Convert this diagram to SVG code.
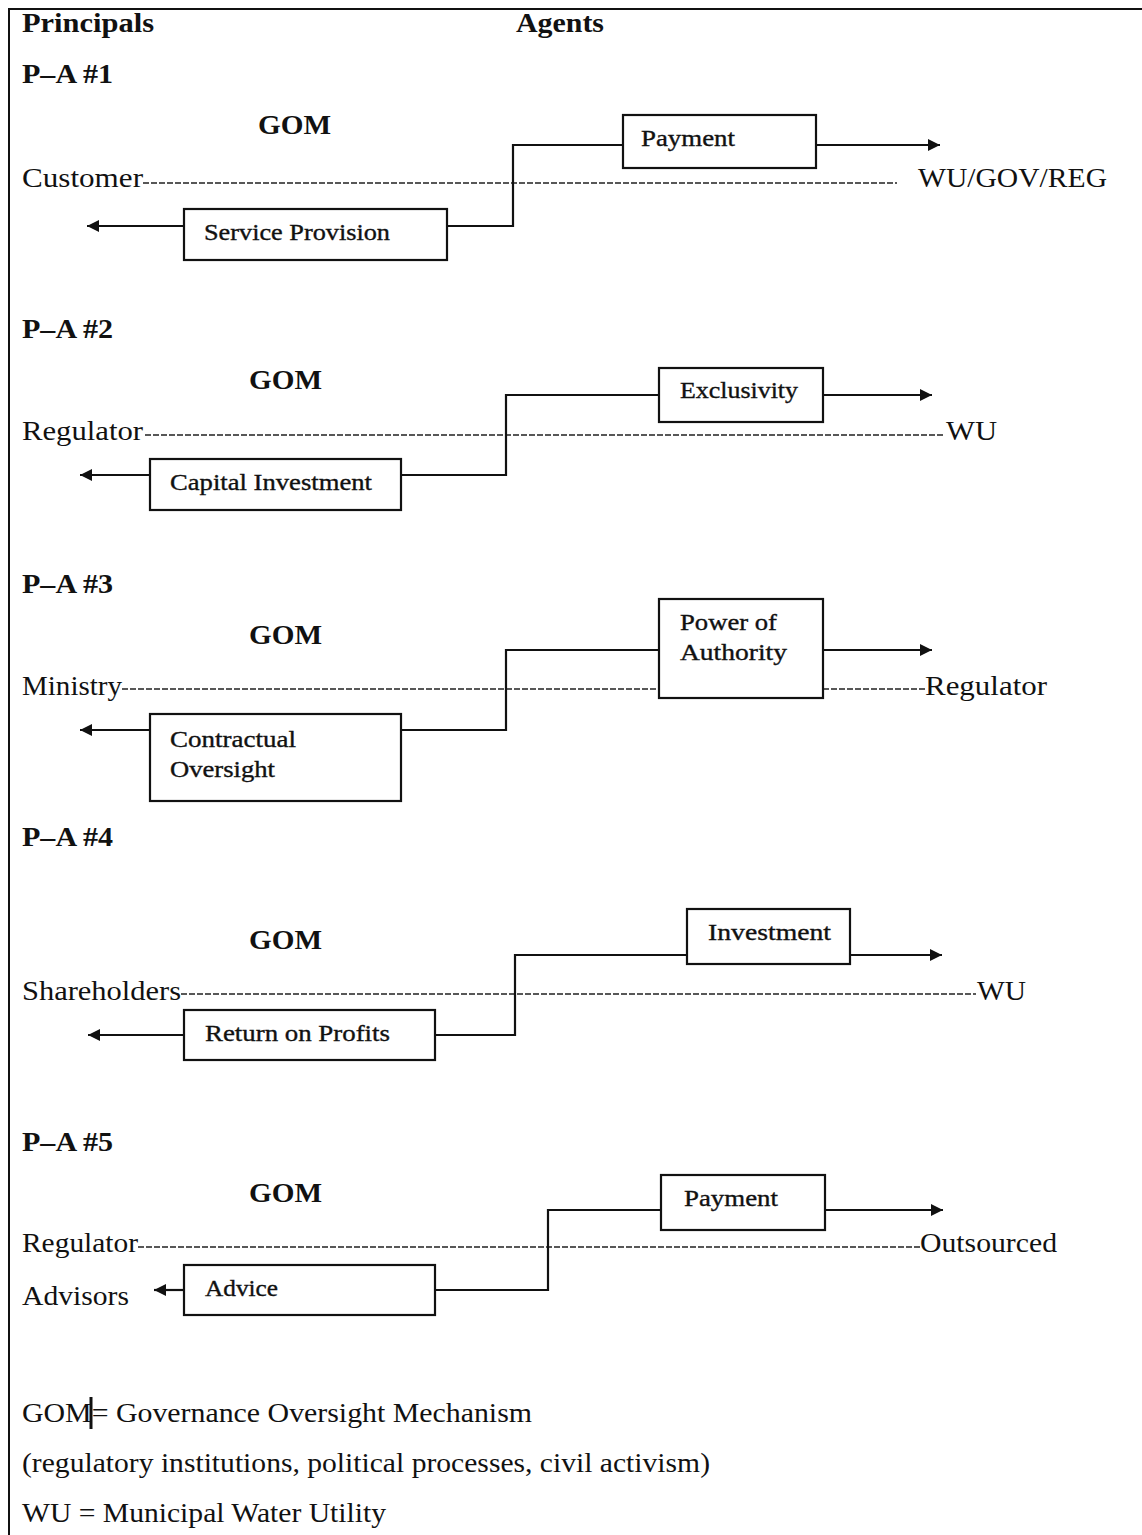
<svg xmlns="http://www.w3.org/2000/svg" width="1142" height="1535" viewBox="0 0 1142 1535">
<defs>
<style>
.t{font-family:"Liberation Serif","Times New Roman",serif;font-size:28px;fill:#111;}
.b{font-weight:bold;}
.bx{font-family:"Liberation Serif","Times New Roman",serif;font-size:23px;fill:#111;stroke:#111;stroke-width:0.35;}
.lg{font-family:"Liberation Serif","Times New Roman",serif;font-size:28px;fill:#111;}
.box{fill:#fff;stroke:#111;stroke-width:2.2;}
.ln{fill:none;stroke:#111;stroke-width:2.2;}
.dash{fill:none;stroke:#222;stroke-width:1.6;stroke-dasharray:6 2;}
</style>
<marker id="ah" viewBox="0 0 12 12" refX="12" refY="6" markerWidth="12" markerHeight="12" markerUnits="userSpaceOnUse" orient="auto">
<path d="M0,0 L12,6 L0,12 z" fill="#111"/>
</marker>
</defs>
<rect width="1142" height="1535" fill="#fff"/>
<path d="M1142,9 H9 V1535" fill="none" stroke="#111" stroke-width="2"/>

<g id="headers">
<text class="t b" x="22" y="32" textLength="132" lengthAdjust="spacingAndGlyphs">Principals</text>
<text class="t b" x="516" y="32" textLength="88" lengthAdjust="spacingAndGlyphs">Agents</text>
</g>

<g id="connectors">
<line class="dash" x1="143" y1="183" x2="897" y2="183"/>
<line class="dash" x1="145" y1="435" x2="945" y2="435"/>
<line class="dash" x1="122" y1="689" x2="659" y2="689"/>
<line class="dash" x1="823" y1="689" x2="925" y2="689"/>
<line class="dash" x1="181" y1="994" x2="976" y2="994"/>
<line class="dash" x1="138" y1="1247" x2="920" y2="1247"/>

<polyline class="ln" points="447,226 513,226 513,145 623,145"/>
<line class="ln" x1="816" y1="145" x2="940" y2="145" marker-end="url(#ah)"/>
<line class="ln" x1="184" y1="226" x2="87" y2="226" marker-end="url(#ah)"/>

<polyline class="ln" points="401,475 506,475 506,395 659,395"/>
<line class="ln" x1="823" y1="395" x2="932" y2="395" marker-end="url(#ah)"/>
<line class="ln" x1="150" y1="475" x2="80" y2="475" marker-end="url(#ah)"/>

<polyline class="ln" points="401,730 506,730 506,650 659,650"/>
<line class="ln" x1="823" y1="650" x2="932" y2="650" marker-end="url(#ah)"/>
<line class="ln" x1="150" y1="730" x2="80" y2="730" marker-end="url(#ah)"/>

<polyline class="ln" points="435,1035 515,1035 515,955 687,955"/>
<line class="ln" x1="850" y1="955" x2="942" y2="955" marker-end="url(#ah)"/>
<line class="ln" x1="184" y1="1035" x2="88" y2="1035" marker-end="url(#ah)"/>

<polyline class="ln" points="435,1290 548,1290 548,1210 661,1210"/>
<line class="ln" x1="825" y1="1210" x2="943" y2="1210" marker-end="url(#ah)"/>
<line class="ln" x1="184" y1="1290" x2="154" y2="1290" marker-end="url(#ah)"/>
</g>

<g id="pa1">
<text class="t b" x="22" y="83" textLength="91" lengthAdjust="spacingAndGlyphs">P–A #1</text>
<text class="t b" x="258" y="134" textLength="73" lengthAdjust="spacingAndGlyphs">GOM</text>
<text class="t" x="22" y="187" textLength="121" lengthAdjust="spacingAndGlyphs">Customer</text>
<text class="t" x="918" y="187" textLength="189" lengthAdjust="spacingAndGlyphs">WU/GOV/REG</text>
</g>
<g id="box-payment1">
<rect class="box" x="623" y="115" width="193" height="53"/>
<text class="bx" x="641" y="146" textLength="94" lengthAdjust="spacingAndGlyphs">Payment</text>
</g>
<g id="box-service">
<rect class="box" x="184" y="209" width="263" height="51"/>
<text class="bx" x="204" y="240" textLength="186" lengthAdjust="spacingAndGlyphs">Service Provision</text>
</g>

<g id="pa2">
<text class="t b" x="22" y="338" textLength="91" lengthAdjust="spacingAndGlyphs">P–A #2</text>
<text class="t b" x="249" y="389" textLength="73" lengthAdjust="spacingAndGlyphs">GOM</text>
<text class="t" x="22" y="440" textLength="121" lengthAdjust="spacingAndGlyphs">Regulator</text>
<text class="t" x="946" y="440" textLength="51" lengthAdjust="spacingAndGlyphs">WU</text>
</g>
<g id="box-exclusivity">
<rect class="box" x="659" y="368" width="164" height="54"/>
<text class="bx" x="680" y="398" textLength="118" lengthAdjust="spacingAndGlyphs">Exclusivity</text>
</g>
<g id="box-capital">
<rect class="box" x="150" y="459" width="251" height="51"/>
<text class="bx" x="170" y="490" textLength="202" lengthAdjust="spacingAndGlyphs">Capital Investment</text>
</g>

<g id="pa3">
<text class="t b" x="22" y="593" textLength="91" lengthAdjust="spacingAndGlyphs">P–A #3</text>
<text class="t b" x="249" y="644" textLength="73" lengthAdjust="spacingAndGlyphs">GOM</text>
<text class="t" x="22" y="695" textLength="100" lengthAdjust="spacingAndGlyphs">Ministry</text>
<text class="t" x="925" y="695" textLength="122" lengthAdjust="spacingAndGlyphs">Regulator</text>
</g>
<g id="box-power">
<rect class="box" x="659" y="599" width="164" height="99"/>
<text class="bx" x="680" y="630" textLength="97" lengthAdjust="spacingAndGlyphs">Power of</text>
<text class="bx" x="680" y="660" textLength="107" lengthAdjust="spacingAndGlyphs">Authority</text>
</g>
<g id="box-contractual">
<rect class="box" x="150" y="714" width="251" height="87"/>
<text class="bx" x="170" y="747" textLength="126" lengthAdjust="spacingAndGlyphs">Contractual</text>
<text class="bx" x="170" y="777" textLength="105" lengthAdjust="spacingAndGlyphs">Oversight</text>
</g>

<g id="pa4">
<text class="t b" x="22" y="846" textLength="91" lengthAdjust="spacingAndGlyphs">P–A #4</text>
<text class="t b" x="249" y="949" textLength="73" lengthAdjust="spacingAndGlyphs">GOM</text>
<text class="t" x="22" y="1000" textLength="159" lengthAdjust="spacingAndGlyphs">Shareholders</text>
<text class="t" x="977" y="1000" textLength="49" lengthAdjust="spacingAndGlyphs">WU</text>
</g>
<g id="box-investment">
<rect class="box" x="687" y="909" width="163" height="55"/>
<text class="bx" x="708" y="940" textLength="123" lengthAdjust="spacingAndGlyphs">Investment</text>
</g>
<g id="box-return">
<rect class="box" x="184" y="1010" width="251" height="50"/>
<text class="bx" x="205" y="1041" textLength="185" lengthAdjust="spacingAndGlyphs">Return on Profits</text>
</g>

<g id="pa5">
<text class="t b" x="22" y="1151" textLength="91" lengthAdjust="spacingAndGlyphs">P–A #5</text>
<text class="t b" x="249" y="1202" textLength="73" lengthAdjust="spacingAndGlyphs">GOM</text>
<text class="t" x="22" y="1252" textLength="116" lengthAdjust="spacingAndGlyphs">Regulator</text>
<text class="t" x="920" y="1252" textLength="137" lengthAdjust="spacingAndGlyphs">Outsourced</text>
<text class="t" x="22" y="1305" textLength="107" lengthAdjust="spacingAndGlyphs">Advisors</text>
</g>
<g id="box-payment5">
<rect class="box" x="661" y="1175" width="164" height="55"/>
<text class="bx" x="684" y="1206" textLength="94" lengthAdjust="spacingAndGlyphs">Payment</text>
</g>
<g id="box-advice">
<rect class="box" x="184" y="1265" width="251" height="50"/>
<text class="bx" x="205" y="1296" textLength="73" lengthAdjust="spacingAndGlyphs">Advice</text>
</g>

<g id="legend">
<text class="lg" x="22" y="1422" textLength="510" lengthAdjust="spacingAndGlyphs">GOM= Governance Oversight Mechanism</text>
<line x1="91" y1="1397" x2="91" y2="1429" stroke="#111" stroke-width="3"/>
<text class="lg" x="22" y="1472" textLength="688" lengthAdjust="spacingAndGlyphs">(regulatory institutions, political processes, civil activism)</text>
<text class="lg" x="22" y="1522" textLength="364" lengthAdjust="spacingAndGlyphs">WU = Municipal Water Utility</text>
</g>
</svg>
